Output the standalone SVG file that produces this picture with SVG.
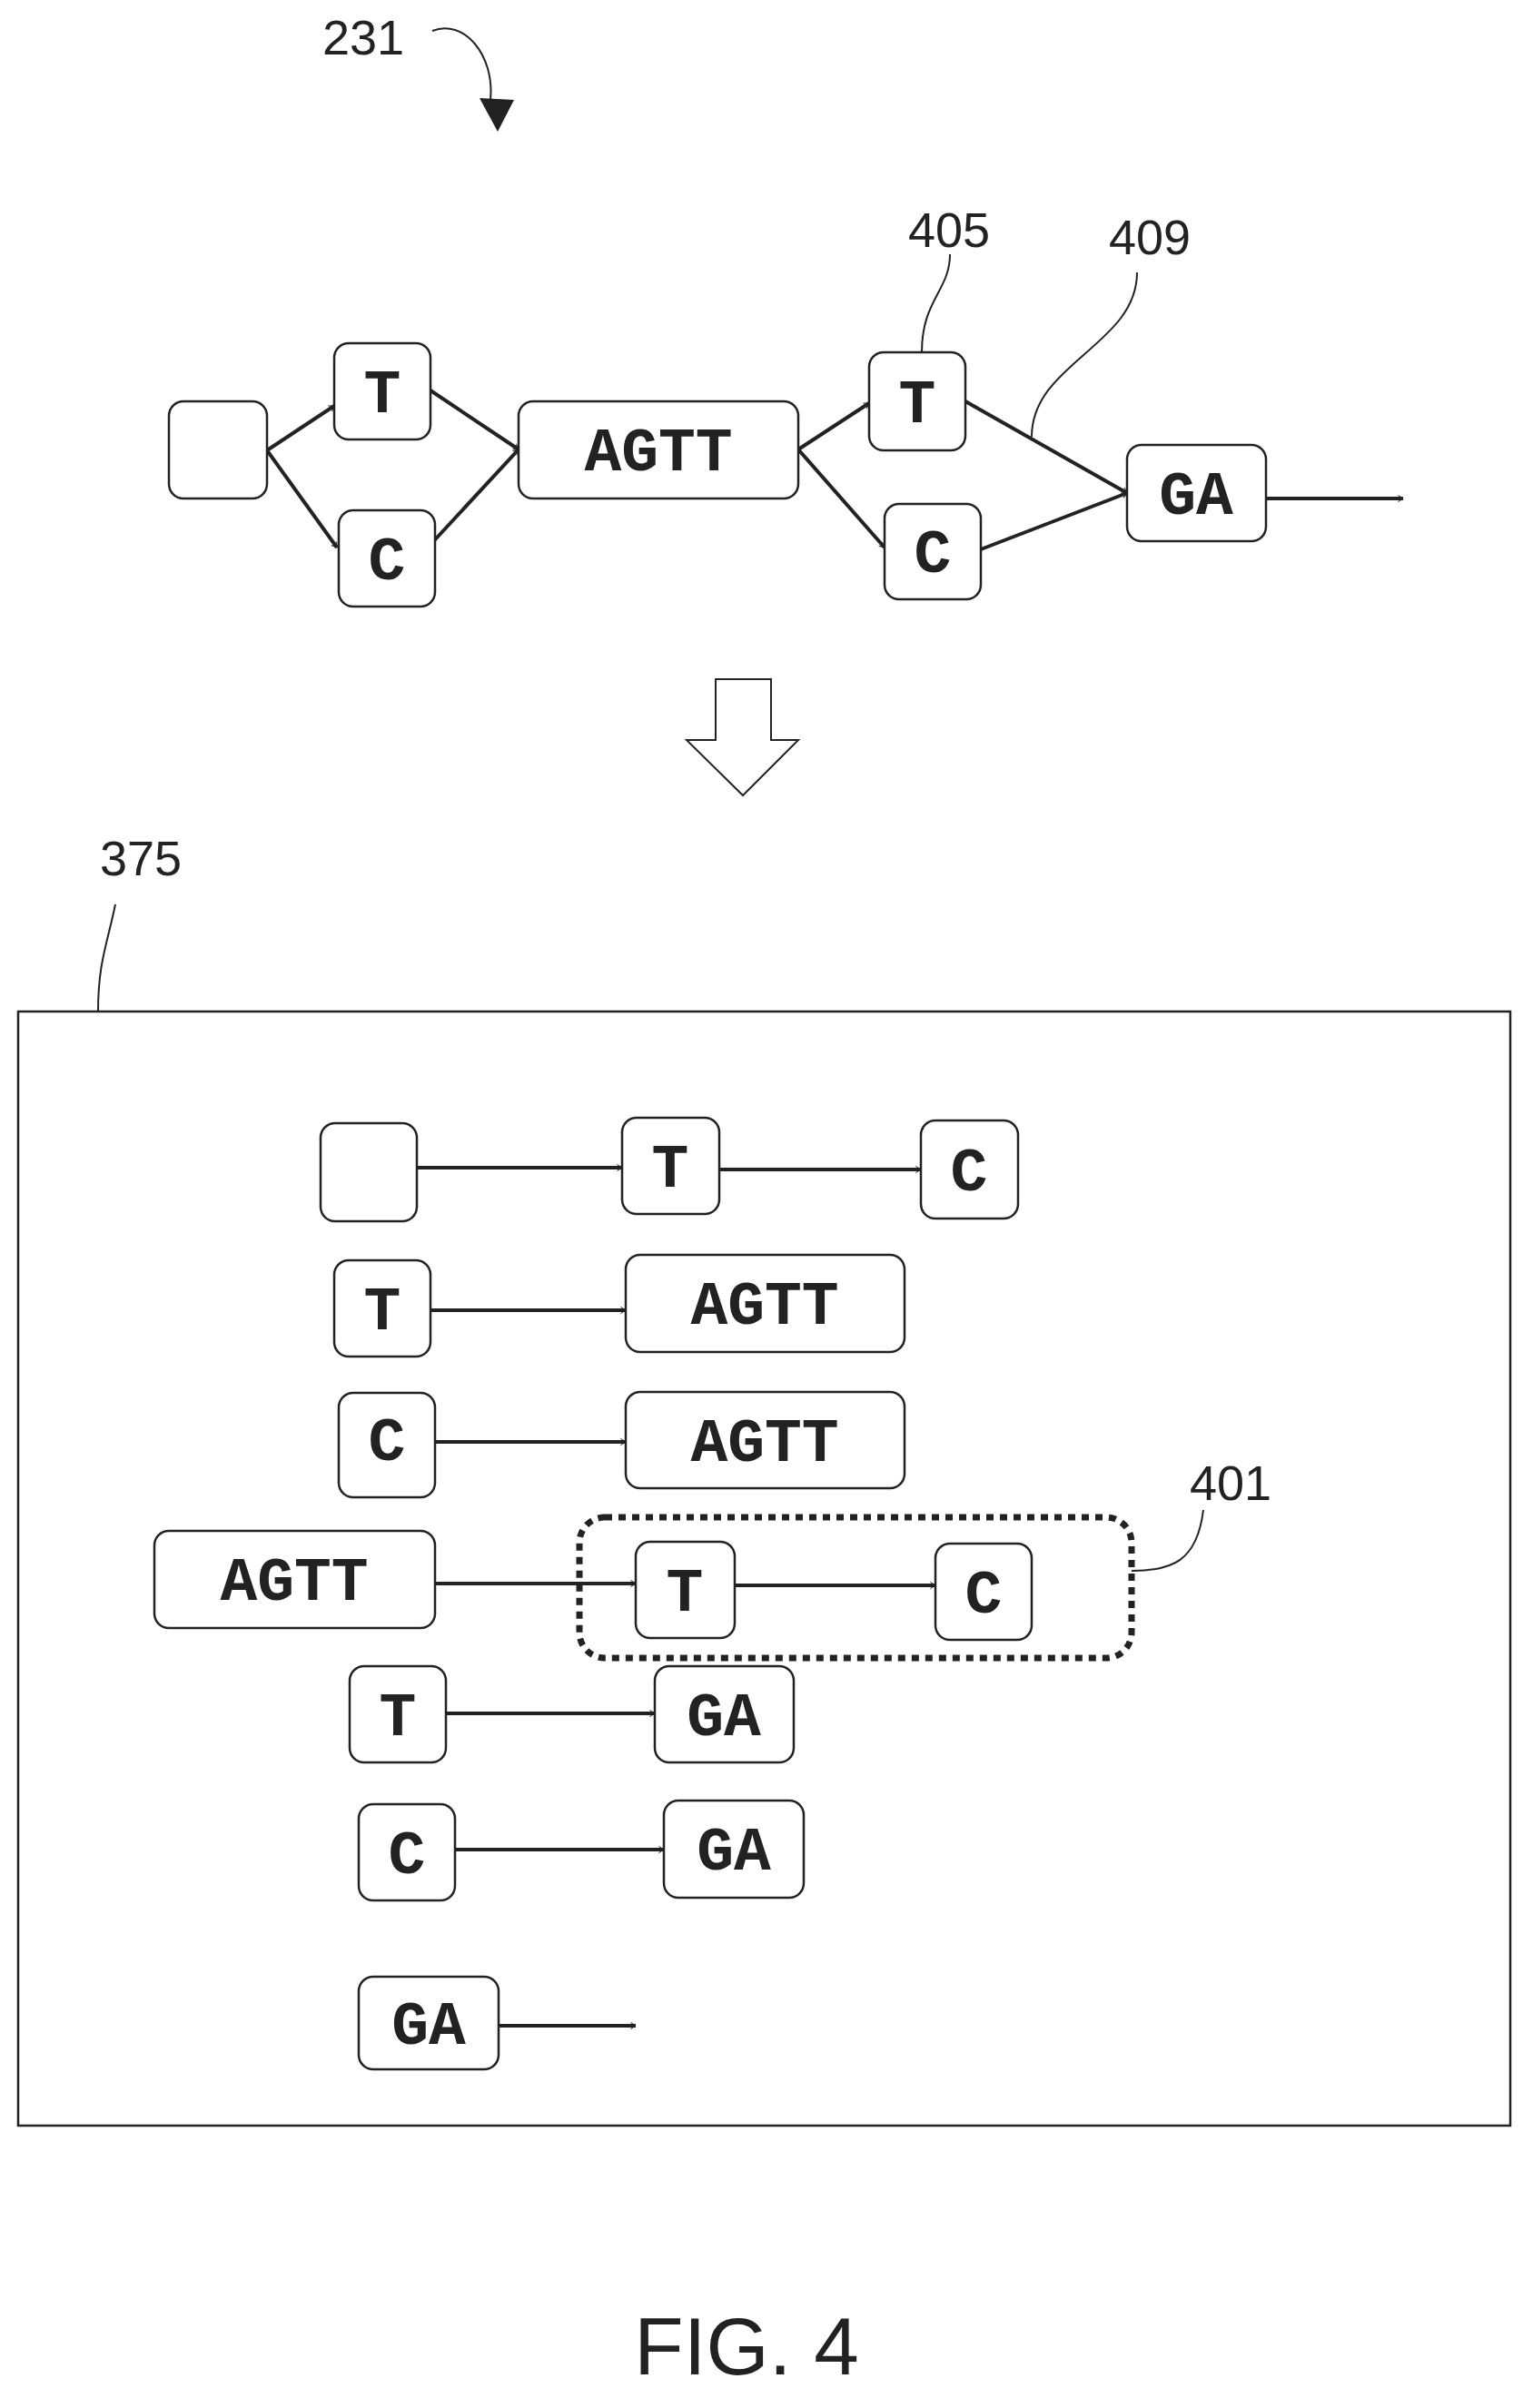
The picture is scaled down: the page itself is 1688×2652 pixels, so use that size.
<svg xmlns="http://www.w3.org/2000/svg" width="1688" height="2652" viewBox="0 0 1688 2652">
<style>
.n{fill:#fff;stroke:#222;stroke-width:2.5}
.t{font-family:"Liberation Mono",monospace;font-weight:bold;font-size:68px;text-anchor:middle;fill:#222}
.l{font-family:"Liberation Sans",Arial,sans-serif;font-size:54px;fill:#222;text-anchor:middle}
.e{stroke:#222;stroke-width:4;fill:none;marker-end:url(#a)}
.ld{stroke:#222;stroke-width:2;fill:none}
</style>
<defs>
<marker id="a" viewBox="0 0 20 20" refX="18" refY="10" markerWidth="8" markerHeight="8" markerUnits="userSpaceOnUse" orient="auto" style="overflow:visible">
<path d="M4,1 L18,10 L4,19" fill="none" stroke="#222" stroke-width="2.5"/>
</marker>
</defs>
<rect width="1688" height="2652" fill="#fff"/>
<g id="labels">
<text class="l" x="400" y="60">231</text>
<path class="ld" d="M476,34 C510,20 545,60 540,110" stroke-width="3"/>
<path d="M528,108 L566,110 L548,145 Z" fill="#222"/>
<text class="l" x="1045" y="272">405</text>
<path class="ld" d="M1046,280 C1046,320 1015,330 1015,388"/>
<text class="l" x="1266" y="280">409</text>
<path class="ld" d="M1252,300 C1252,380 1136,400 1136,481"/>
<text class="l" x="155" y="964">375</text>
<path class="ld" d="M127,996 C118,1040 108,1060 108,1114"/>
<text class="l" x="1355" y="1652">401</text>
<path class="ld" d="M1246,1730 C1290,1730 1318,1720 1325,1663"/>
<text x="822" y="2615" font-family="Liberation Sans,Arial,sans-serif" font-size="89" text-anchor="middle" fill="#222">FIG. 4</text>
</g>
<g id="bigarrow"><path d="M788,748 H849 V815 H879 L818,876 L756,815 H788 Z" fill="#fff" stroke="#222" stroke-width="2"/></g>
<g id="frame"><rect x="20" y="1114" width="1643" height="1227" fill="none" stroke="#222" stroke-width="2.5"/></g>
<g id="connectors">
<path class="e" d="M294,496 L368,447"/>
<path class="e" d="M294,496 L371,603"/>
<path class="e" d="M474,430 L571,495"/>
<path class="e" d="M471,603 L571,495"/>
<path class="e" d="M879,495 L957,444"/>
<path class="e" d="M879,495 L974,603"/>
<path class="e" d="M1063,442 L1241,543"/>
<path class="e" d="M1080,605 L1241,543"/>
<path class="e" d="M1394,549 L1545,549"/>
<path class="e" d="M459,1286 L685,1286"/>
<path class="e" d="M792,1288 L1014,1288"/>
<path class="e" d="M474,1443 L689,1443"/>
<path class="e" d="M474,1588 L689,1588"/>
<path class="e" d="M479,1744 L700,1744"/>
<path class="e" d="M809,1746 L1030,1746"/>
<path class="e" d="M491,1887 L721,1887"/>
<path class="e" d="M501,2037 L731,2037"/>
<path class="e" d="M549,2231 L700,2231"/>
</g>
<g id="n1"><rect class="n" x="186" y="442" width="108" height="107" rx="16"/></g>
<g id="n2"><rect class="n" x="368" y="378" width="106" height="106" rx="16"/><text class="t" x="421" y="454">T</text></g>
<g id="n3"><rect class="n" x="373" y="562" width="106" height="106" rx="16"/><text class="t" x="426" y="638">C</text></g>
<g id="n4"><rect class="n" x="571" y="442" width="308" height="107" rx="16"/><text class="t" x="725" y="518">AGTT</text></g>
<g id="n5"><rect class="n" x="957" y="388" width="106" height="108" rx="16"/><text class="t" x="1010" y="465">T</text></g>
<g id="n6"><rect class="n" x="974" y="555" width="106" height="105" rx="16"/><text class="t" x="1027" y="630">C</text></g>
<g id="n7"><rect class="n" x="1241" y="490" width="153" height="106" rx="16"/><text class="t" x="1317" y="566">GA</text></g>
<g id="r1a"><rect class="n" x="353" y="1237" width="106" height="108" rx="16"/></g>
<g id="r1b"><rect class="n" x="685" y="1231" width="107" height="106" rx="16"/><text class="t" x="738" y="1307">T</text></g>
<g id="r1c"><rect class="n" x="1014" y="1234" width="107" height="108" rx="16"/><text class="t" x="1067" y="1311">C</text></g>
<g id="r2a"><rect class="n" x="368" y="1388" width="106" height="106" rx="16"/><text class="t" x="421" y="1464">T</text></g>
<g id="r2b"><rect class="n" x="689" y="1382" width="307" height="107" rx="16"/><text class="t" x="842" y="1458">AGTT</text></g>
<g id="r3a"><rect class="n" x="373" y="1534" width="106" height="115" rx="16"/><text class="t" x="426" y="1608">C</text></g>
<g id="r3b"><rect class="n" x="689" y="1533" width="307" height="106" rx="16"/><text class="t" x="842" y="1609">AGTT</text></g>
<g id="r4a"><rect class="n" x="170" y="1686" width="309" height="107" rx="16"/><text class="t" x="324" y="1762">AGTT</text></g>
<g id="r4b"><rect class="n" x="700" y="1698" width="109" height="106" rx="16"/><text class="t" x="754" y="1774">T</text></g>
<g id="r4c"><rect class="n" x="1030" y="1700" width="106" height="106" rx="16"/><text class="t" x="1083" y="1776">C</text></g>
<g id="g401"><rect x="638" y="1671" width="608" height="155" rx="28" fill="none" stroke="#222" stroke-width="7" stroke-dasharray="8,7"/></g>
<g id="r5a"><rect class="n" x="385" y="1835" width="106" height="106" rx="16"/><text class="t" x="438" y="1911">T</text></g>
<g id="r5b"><rect class="n" x="721" y="1835" width="153" height="106" rx="16"/><text class="t" x="797" y="1911">GA</text></g>
<g id="r6a"><rect class="n" x="395" y="1987" width="106" height="106" rx="16"/><text class="t" x="448" y="2063">C</text></g>
<g id="r6b"><rect class="n" x="731" y="1983" width="154" height="107" rx="16"/><text class="t" x="808" y="2059">GA</text></g>
<g id="r7a"><rect class="n" x="395" y="2177" width="154" height="102" rx="16"/><text class="t" x="472" y="2251">GA</text></g>
</svg>
